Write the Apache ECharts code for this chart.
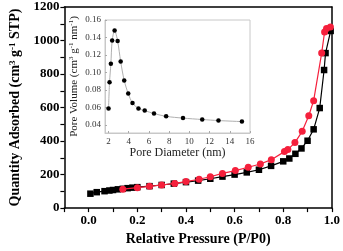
<!DOCTYPE html>
<html><head><meta charset="utf-8">
<script src="https://cdn.jsdelivr.net/npm/echarts@6/dist/echarts.min.js"></script>
<style>html,body{margin:0;padding:0;background:#fff}#c{width:343px;height:251px}</style>
</head><body><div id="c"></div>
<script>
// Adsorption branch (black squares)
const adsX = [0.007,0.033,0.065,0.085,0.1,0.12,0.14,0.16,0.18,0.2,0.25,0.3,0.35,0.4,0.45,0.5,0.55,0.6,0.65,0.7,0.75,0.8,0.825,0.85,0.875,0.9,0.925,0.95,0.968,0.974,0.995];
const adsY = [86,95,101,105,108,112,115,119,122,125,131,138,146,155,164,175,188,200,213,229,252,279,296,324,356,402,470,597,824,925,1057];
// Desorption branch (red circles)
const desX = [0.14,0.2,0.25,0.3,0.354,0.4,0.454,0.5,0.55,0.603,0.656,0.706,0.751,0.805,0.819,0.848,0.878,0.905,0.925,0.958,0.970,0.978,0.994];
const desY = [113,122,130,138,147,158,172,187,207,224,244,263,289,337,349,391,458,551,641,925,1051,1071,1081];
// Inset: pore size distribution
const poreD = [2.0,2.1,2.23,2.36,2.6,2.9,3.2,3.55,3.95,4.37,4.96,5.58,6.5,7.7,9.37,11.27,12.88,15.2];
const poreV = [0.059,0.089,0.110,0.1365,0.148,0.136,0.1126,0.091,0.076,0.0653,0.059,0.0566,0.0532,0.050,0.048,0.0464,0.0452,0.044];
const mainXTicks = [0,0.2,0.4,0.6,0.8,1.0];
const insetXTicks = [2,4,6,8,10,12,14,16];
const insetYTicks = [0.04,0.06,0.08,0.10,0.12,0.14,0.16];

const zip = (a,b)=>a.map((v,i)=>[v,b[i]]);
const serif = 'Liberation Serif';
const chart = echarts.init(document.getElementById('c'));
chart.setOption({
  animation:false,
  grid:[
    {left:56,right:10,top:7,bottom:39,show:false},
    {left:105,right:93,top:20,bottom:118,show:true,borderColor:'#c8c8c8',borderWidth:1,backgroundColor:'#fff',z:5}
  ],
  xAxis:[
    {gridIndex:0,type:'value',min:-0.1,max:1.0,interval:0.1,
     axisLine:{onZero:false,lineStyle:{color:'#000',width:1.5}},
     axisTick:{show:true,length:4,lineStyle:{color:'#000',width:1.2}},
     splitLine:{show:false},
     axisLabel:{customValues:mainXTicks,formatter:v=>v.toFixed(1),fontFamily:serif,fontWeight:'bold',fontSize:13,color:'#000',margin:6},
     name:'Relative Pressure (P/P0)',nameLocation:'middle',nameGap:20,
     nameTextStyle:{fontFamily:serif,fontWeight:'bold',fontSize:14,color:'#000'}},
    {gridIndex:0,type:'value',min:-0.1,max:1.0,position:'top',
     axisLine:{onZero:false,lineStyle:{color:'#000',width:1.5}},axisTick:{show:false},axisLabel:{show:false},splitLine:{show:false}},
    {gridIndex:1,type:'value',min:1.65,max:16,z:6,
     axisLine:{onZero:false,lineStyle:{color:'#c8c8c8'}},
     axisTick:{show:true,inside:true,length:2,customValues:insetXTicks,lineStyle:{color:'#aaa'}},
     splitLine:{show:false},
     axisLabel:{customValues:insetXTicks,fontFamily:serif,fontSize:9,color:'#333',margin:4},
     name:'Pore Diameter (nm)',nameLocation:'middle',nameGap:13,
     nameTextStyle:{fontFamily:serif,fontSize:12,color:'#222'}}
  ],
  yAxis:[
    {gridIndex:0,type:'value',min:0,max:1200,interval:100,
     axisLine:{show:true,onZero:false,lineStyle:{color:'#000',width:1.5}},
     axisTick:{show:true,length:4,lineStyle:{color:'#000',width:1.2}},
     splitLine:{show:false},
     axisLabel:{customValues:[0,200,400,600,800,1000,1200],formatter:v=>String(v),fontFamily:serif,fontWeight:'bold',fontSize:13,color:'#000',margin:5},
     name:'Quantity Adsorbed (cm{s|3} g{s|-1} STP)',nameLocation:'middle',nameGap:35,
     nameTextStyle:{fontFamily:serif,fontWeight:'bold',fontSize:14,color:'#000',
       rich:{s:{fontFamily:serif,fontWeight:'bold',fontSize:9,color:'#000',verticalAlign:'bottom',padding:[0,0,6,0]}}}},
    {gridIndex:0,type:'value',min:0,max:1200,position:'right',
     axisLine:{show:true,onZero:false,lineStyle:{color:'#000',width:1.5}},axisTick:{show:false},axisLabel:{show:false},splitLine:{show:false}},
    {gridIndex:1,type:'value',min:0.031,max:0.16,z:6,
     axisLine:{show:true,onZero:false,lineStyle:{color:'#c8c8c8'}},
     axisTick:{show:true,inside:true,length:2,customValues:insetYTicks,lineStyle:{color:'#aaa'}},
     splitLine:{show:false},
     axisLabel:{customValues:insetYTicks,formatter:v=>v.toFixed(2),fontFamily:serif,fontSize:9,color:'#333',margin:4},
     name:'Pore Volume (cm{s|3} g{s|-1} nm{s|-1})',nameLocation:'middle',nameGap:25,
     nameTextStyle:{fontFamily:serif,fontSize:11,color:'#222',
       rich:{s:{fontFamily:serif,fontSize:7,color:'#222',verticalAlign:'bottom',padding:[0,0,5,0]}}}}
  ],
  series:[
    {type:'line',xAxisIndex:0,yAxisIndex:0,data:zip(adsX,adsY),symbol:'rect',symbolSize:6.5,
     lineStyle:{color:'#000',width:1.2},itemStyle:{color:'#000'},z:2},
    {type:'line',xAxisIndex:0,yAxisIndex:0,data:zip(desX,desY),symbol:'circle',symbolSize:7,
     lineStyle:{color:'#f5203c',width:1.2},itemStyle:{color:'#f5203c'},z:3},
    {type:'line',xAxisIndex:2,yAxisIndex:2,data:zip(poreD,poreV),symbol:'circle',symbolSize:4.5,smooth:0.3,
     lineStyle:{color:'#b0b0b0',width:1},itemStyle:{color:'#000'},z:7}
  ]
});
</script></body></html>
